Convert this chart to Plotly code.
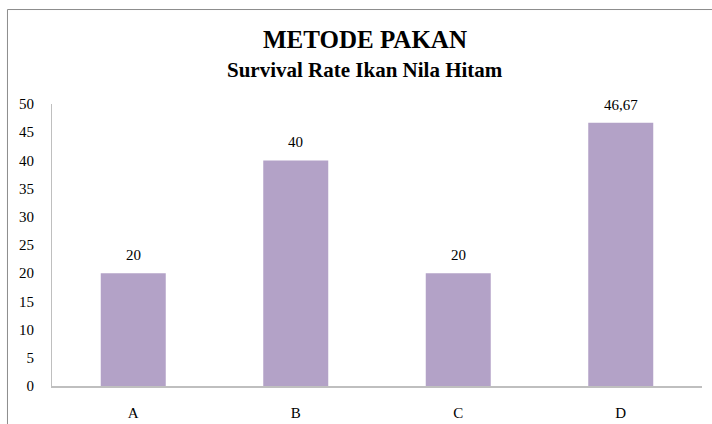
import plotly.graph_objects as go

# chart data
categories = ["A", "B", "C", "D"]
survival = [20, 40, 20, 46.67]
labels = ["20", "40", "20", "46,67"]
y_ticks = list(range(0, 51, 5))

BAR = "#B3A2C7"
AXIS = "#BFBFBF"
FONT = "'Times New Roman', 'Liberation Serif', Times, 'DejaVu Serif', serif"

fig = go.Figure()
fig.add_trace(
    go.Bar(
        x=categories,
        y=survival,
        width=0.4,
        marker_color=BAR,
        marker_line_width=0,
        hoverinfo="skip",
    )
)

# value labels above the bars
for c, v, t in zip(categories, survival, labels):
    fig.add_annotation(
        x=c, y=v, text=t, showarrow=False, yanchor="bottom", yshift=8,
        font=dict(family=FONT, size=15, color="black"),
    )

# two-line title
fig.add_annotation(
    xref="paper", yref="paper", x=0.4815, y=1.228, yanchor="middle",
    text="<b>METODE PAKAN</b>", showarrow=False,
    font=dict(family=FONT, size=25, color="black"),
)
fig.add_annotation(
    xref="paper", yref="paper", x=0.4815, y=1.122, yanchor="middle",
    text="<b>Survival Rate Ikan Nila Hitam</b>", showarrow=False,
    font=dict(family=FONT, size=21, color="black"),
)

# chart area border (partly cropped in the original)
fig.add_shape(
    type="rect", xref="paper", yref="paper",
    x0=-0.0685, y0=-0.3, x1=1.2, y1=1.335,
    line=dict(color="#8C8C8C", width=1),
)

fig.update_layout(
    width=712,
    height=424,
    margin=dict(l=52, r=10, t=104, b=38, autoexpand=False),
    plot_bgcolor="white",
    paper_bgcolor="white",
    showlegend=False,
    font=dict(family=FONT, size=15, color="black"),
    xaxis=dict(
        showline=True, linecolor=AXIS, linewidth=1.5,
        showgrid=False, ticks="", ticklabelstandoff=12,
        fixedrange=True, automargin=False,
    ),
    yaxis=dict(
        range=[0, 50], tickmode="array", tickvals=y_ticks,
        showline=True, linecolor=AXIS, linewidth=1,
        showgrid=False, zeroline=False, ticks="", ticklabelstandoff=14,
        fixedrange=True, automargin=False,
    ),
)

# the page body has a default 8px margin; drop it so the figure sits at 0,0
fig.write_html(
    "out.html",
    config={"displayModeBar": False},
    post_script="document.body.style.margin='0';",
)
